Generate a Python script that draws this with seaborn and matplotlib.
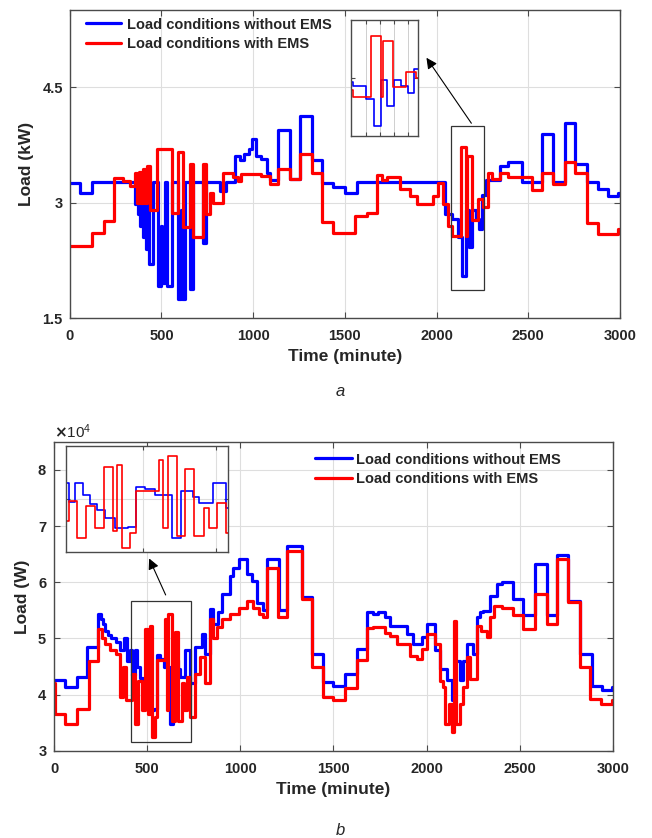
import numpy as np
import pandas as pd
import matplotlib
matplotlib.use("Agg")
import matplotlib.pyplot as plt
from matplotlib.patches import Rectangle
from matplotlib.ticker import FormatStrFormatter, NullFormatter
import seaborn as sns

sns.set_style("ticks")
plt.rcParams['font.family'] = ['Liberation Sans', 'DejaVu Sans']
plt.rcParams['font.weight'] = 'bold'
plt.rcParams['axes.labelweight'] = 'bold'

LAB_NO = 'Load conditions without EMS'
LAB_EMS = 'Load conditions with EMS'
COLORS = {LAB_NO: '#0000ff', LAB_EMS: '#ff0000'}

# (a) load in kW, step data: time (minute) -> value
time_a_no = [0, 55, 122, 355, 363, 370, 378, 385, 393, 400, 408, 415, 424, 433, 453, 480,
             497, 503, 520, 530, 556, 590, 605, 612, 627, 655, 673, 727, 740,
             820, 850, 900, 930, 950, 975, 991, 1018, 1045, 1073, 1091, 1136,
             1200, 1255, 1318, 1373, 1436, 1500, 1564, 2045, 2082, 2118, 2140, 2158, 2175,
             2195, 2214, 2233, 2250, 2270, 2345, 2391, 2464, 2573, 2636, 2700, 2755, 2818,
             2882, 2936, 2990, 3000]
load_a_no = [3.25, 3.12, 3.27, 2.98, 3.27, 2.85, 3.27, 2.7, 3.27, 2.55, 3.27, 2.4, 3.27, 2.2,
             3.27, 1.92, 2.7, 1.95, 3.27, 1.92, 3.27, 1.75, 2.9, 1.75, 3.27, 1.88, 3.27,
             2.47, 3.27, 3.15, 3.27, 3.61, 3.55, 3.63, 3.70, 3.82, 3.61, 3.56,
             3.39, 3.29, 3.94, 3.31, 4.13, 3.55, 3.26, 3.2, 3.13, 3.27, 2.85, 2.79, 2.55,
             2.05, 2.9, 2.42, 2.9, 2.78, 2.65, 3.1, 3.29, 3.48, 3.52, 3.27, 3.89, 3.27,
             4.03, 3.5, 3.27, 3.18, 3.09, 3.13, 3.13]

time_a_ems = [0, 120, 185, 240, 290, 330, 355, 368, 378, 390, 400, 412, 422, 436, 473, 560,
              591, 618, 655, 673, 727, 745, 765, 782, 836, 891, 915, 935, 1045, 1091, 1136,
              1200, 1255, 1318, 1373, 1436, 1555, 1618, 1673, 1700, 1730, 1800, 1855, 1891,
              1982, 2009, 2036, 2064, 2082, 2131, 2158, 2164, 2191, 2227, 2255, 2282, 2300,
              2345, 2391, 2518, 2573, 2636, 2700, 2755, 2818, 2882, 2990, 3000]
load_a_ems = [2.43, 2.6, 2.76, 3.32, 3.28, 3.22, 3.38, 3.0, 3.4, 3.0, 3.44, 3.0, 3.48, 2.9,
              3.70, 2.87, 3.65, 2.68, 3.5, 2.55, 3.5, 2.85, 3.12, 3.0, 3.39, 3.33, 3.28,
              3.37, 3.35, 3.24, 3.44, 3.31, 3.63, 3.39, 2.75, 2.6, 2.83, 2.87, 3.36, 3.29,
              3.33, 3.17, 3.09, 2.98, 3.08, 3.26, 2.98, 2.70, 2.57, 3.72, 2.57, 3.61, 2.77,
              3.05, 2.94, 3.39, 3.31, 3.39, 3.33, 3.16, 3.39, 3.24, 3.52, 3.39, 2.74, 2.59,
              2.65, 2.65]

# (b) load in W
time_b_no = [0, 59, 122, 175, 238, 250, 262, 274, 290, 305, 330, 354, 375, 390, 405, 420,
             432, 446, 460, 475, 490, 510, 535, 551, 569, 590, 622, 640, 665, 676, 703, 730,
             757, 793, 810, 837, 855, 880, 900, 945, 963, 990, 1034, 1060, 1088, 1124, 1142,
             1205, 1250, 1330, 1385, 1446, 1500, 1562, 1625, 1678, 1714, 1741, 1777, 1804,
             1893, 1929, 1974, 2000, 2045, 2072, 2108, 2135, 2153, 2179, 2197, 2215, 2251,
             2269, 2287, 2304, 2340, 2376, 2403, 2465, 2520, 2582, 2644, 2698, 2760, 2823,
             2890, 2940, 2995, 3000]
load_b_no = [42700, 41300, 43100, 48400, 54400, 53500, 52600, 51400, 50600, 50000, 49300,
             47900, 50000, 46000, 48000, 43500, 48000, 45000, 43000, 41500, 39500, 37200,
             37500, 47000, 46400, 45000, 34800, 46100, 44500, 43100, 47900, 42000, 48500,
             50800, 47300, 55300, 52600, 54700, 57900, 61200, 62600, 64100, 61500, 60300,
             56400, 55000, 64100, 55000, 66500, 57300, 47300, 42200, 41500, 43700, 48200,
             54700, 54400, 54700, 53800, 52300, 50800, 49000, 50200, 52600, 48000, 44500,
             42700, 39000, 46000, 42700, 46000, 49000, 47200, 53800, 54700, 54900, 57600,
             59700, 60000, 57000, 54100, 63200, 54100, 64900, 56700, 47300, 41600, 40800,
             41300, 41300]

time_b_ems = [0, 5, 59, 122, 185, 238, 255, 275, 300, 330, 354, 372, 385, 420, 435, 453,
              470, 488, 506, 515, 524, 540, 551, 596, 605, 614, 632, 649, 667, 685, 695, 712,
              730, 757, 784, 810, 837, 855, 873, 900, 945, 990, 1034, 1070, 1100, 1124, 1142,
              1200, 1250, 1330, 1385, 1446, 1500, 1562, 1625, 1678, 1714, 1777, 1804, 1839,
              1910, 1946, 1974, 2000, 2045, 2072, 2090, 2100, 2120, 2135, 2145, 2160, 2179,
              2197, 2215, 2235, 2270, 2290, 2323, 2340, 2360, 2403, 2465, 2520, 2582, 2644,
              2698, 2760, 2823, 2877, 2935, 2995, 3000]
load_b_ems = [42000, 36600, 34800, 37500, 46000, 51700, 50000, 49000, 48000, 47200, 39600,
              44900, 39000, 43700, 34800, 42500, 37200, 51700, 36500, 52300, 32500, 36000,
              46100, 53500, 37200, 54400, 35400, 51200, 35400, 42000, 37200, 43100, 36000,
              43700, 46700, 42000, 53500, 50000, 52000, 53500, 54400, 55500, 56700, 55500,
              54400, 53800, 62600, 53800, 65600, 57000, 45000, 39600, 39000, 41200, 46100,
              51800, 52000, 51000, 50500, 49000, 46900, 46300, 48200, 50800, 49000, 42500,
              41300, 34800, 38400, 33300, 53200, 34800, 38400, 41300, 46700, 42800, 52300,
              51400, 50200, 53800, 55800, 55500, 54100, 51700, 57900, 52600, 64100, 56500,
              44900, 39200, 38400, 39000, 39000]


def draw_lines(ax, t_no, y_no, t_ems, y_ems, lw):
    df = pd.DataFrame({
        't': t_no + t_ems,
        'load': y_no + y_ems,
        'case': [LAB_NO] * len(t_no) + [LAB_EMS] * len(t_ems),
    })
    sns.lineplot(data=df, x='t', y='load', hue='case', palette=COLORS,
                 drawstyle='steps-post', linewidth=lw, estimator=None,
                 legend=False, ax=ax)
    ax.set_xlabel('')
    ax.set_ylabel('')


def style_axes(ax, labels=True):
    ax.set_axisbelow(True)
    ax.grid(True, color='#dedede', linewidth=0.8)
    for sp in ax.spines.values():
        sp.set_visible(True)
        sp.set_color('#4a4a4a')
        sp.set_linewidth(1.0)
    ax.tick_params(direction='in', top=True, right=True, length=4, width=0.8,
                   colors='#4a4a4a', labelcolor='#262626', labelsize=10.5)
    ax.tick_params(axis='x', pad=8)
    ax.tick_params(axis='y', pad=5)
    if not labels:
        ax.xaxis.set_major_formatter(NullFormatter())
        ax.yaxis.set_major_formatter(NullFormatter())
        ax.tick_params(length=3)


fig = plt.figure(figsize=(6.52, 8.38), dpi=100)

# ---------- (a) ----------
ax1 = fig.add_axes([0.107, 0.6205, 0.844, 0.3675])
draw_lines(ax1, time_a_no, load_a_no, time_a_ems, load_a_ems, 2.3)
ax1.set_xlim(0, 3000)
ax1.set_ylim(1.5, 5.5)
ax1.set_xticks(np.arange(0, 3001, 500))
ax1.set_yticks([1.5, 3, 4.5])
ax1.yaxis.set_major_formatter(FormatStrFormatter('%g'))
style_axes(ax1)
ax1.set_xlabel('Time (minute)', fontsize=12.5, labelpad=4)
ax1.set_ylabel('Load (kW)', fontsize=12.5, labelpad=6)
ax1.legend(handles=ax1.lines[:2], labels=[LAB_NO, LAB_EMS], loc='upper left',
           bbox_to_anchor=(0.025, 0.985), frameon=False, fontsize=10.5,
           handlelength=2.4, handletextpad=0.4, labelspacing=0.35,
           borderaxespad=0, borderpad=0.2)
ax1.add_patch(Rectangle((2076, 1.86), 184, 2.14, fill=False, ec='#333333', lw=0.9, zorder=5))
ax1.annotate('', xy=(1936, 4.91), xytext=(2198, 4.0),
             arrowprops=dict(arrowstyle='-|>', color='black', lw=0.8, mutation_scale=16))

ins1 = fig.add_axes([0.538, 0.838, 0.103, 0.1376])
draw_lines(ins1, time_a_no, load_a_no, time_a_ems, load_a_ems, 1.2)
ins1.set_xlim(2076, 2260)
ins1.set_ylim(1.86, 4.0)
ins1.set_xticks([2118, 2156, 2194, 2232])
ins1.set_yticks([2.93])
style_axes(ins1, labels=False)
ins1.grid(True, axis='x', color='#cfcfcf', linewidth=0.7)
ins1.grid(False, axis='y')

fig.text(340 / 652, 1 - 391 / 838, 'a', style='italic', fontweight='normal',
         fontsize=12, ha='center', va='center')

# ---------- (b) ----------
ax2 = fig.add_axes([0.083, 0.104, 0.857, 0.3687])
draw_lines(ax2, time_b_no, load_b_no, time_b_ems, load_b_ems, 2.3)
ax2.set_xlim(0, 3000)
ax2.set_ylim(30000, 85000)
ax2.set_xticks(np.arange(0, 3001, 500))
ax2.set_yticks(np.arange(30000, 80001, 10000))
ax2.ticklabel_format(axis='y', style='sci', scilimits=(4, 4), useMathText=True)
style_axes(ax2)
ax2.yaxis.get_offset_text().set_fontweight('normal')
ax2.yaxis.get_offset_text().set_fontsize(11)
ax2.set_xlabel('Time (minute)', fontsize=12.5, labelpad=4)
ax2.set_ylabel('Load (W)', fontsize=12.5, labelpad=5)
ax2.legend(handles=ax2.lines[:2], labels=[LAB_NO, LAB_EMS], loc='upper left',
           bbox_to_anchor=(0.462, 0.975), frameon=False, fontsize=10.5,
           handlelength=2.5, handletextpad=0.3, labelspacing=0.35,
           borderaxespad=0, borderpad=0.2)
ax2.add_patch(Rectangle((413, 31600), 320, 25100, fill=False, ec='#333333', lw=0.9, zorder=5))
ax2.annotate('', xy=(504, 64700), xytext=(605, 57300),
             arrowprops=dict(arrowstyle='-|>', color='black', lw=0.8, mutation_scale=16))

ins2 = fig.add_axes([0.101, 0.3417, 0.2485, 0.126])
ins2.set_facecolor('white')
draw_lines(ins2, time_b_no, load_b_no, time_b_ems, load_b_ems, 1.2)
ins2.set_xlim(413, 733)
ins2.set_ylim(31600, 56700)
ins2.set_xticks([565, 710])
ins2.set_yticks([44000])
style_axes(ins2, labels=False)

fig.text(340 / 652, 1 - 830 / 838, 'b', style='italic', fontweight='normal',
         fontsize=12, ha='center', va='center')

fig.savefig('out.png', dpi=100)
